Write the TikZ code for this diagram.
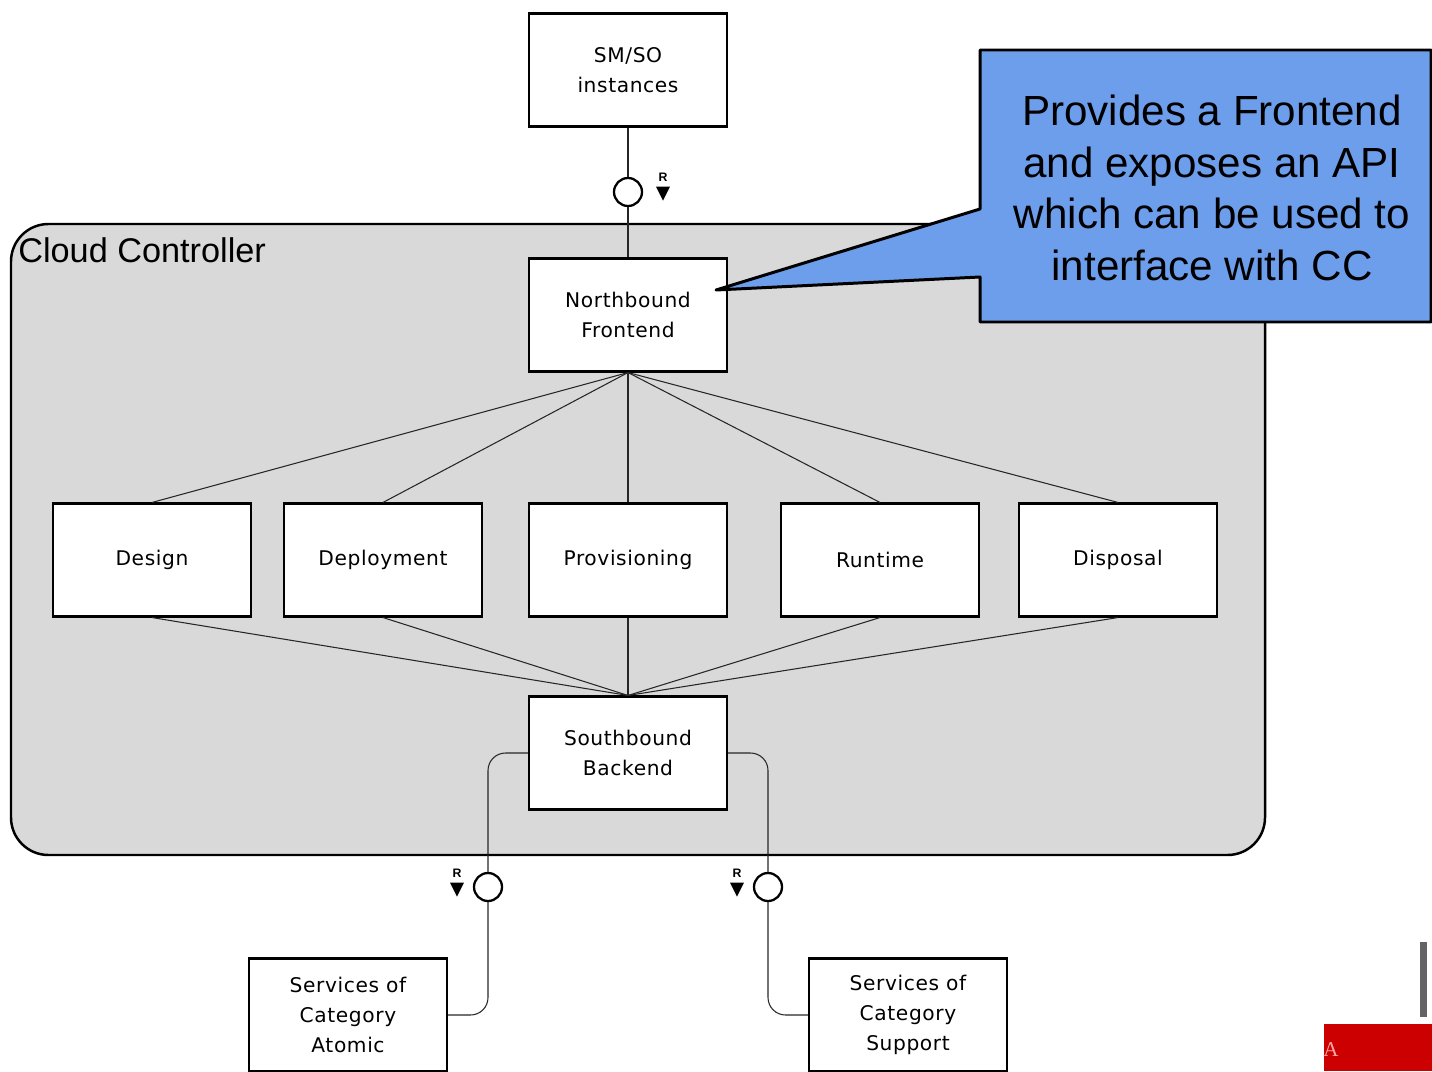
\documentclass[tikz,border=0pt]{standalone}
\usepackage{fontspec}
\setmainfont{Liberation Sans}
\newfontfamily\boxfont[LetterSpace=3]{DejaVu Sans}
\newfontfamily\serfont{Liberation Serif}
\definecolor{ccgray}{RGB}{217,217,217}
\definecolor{callblue}{RGB}{109,158,235}
\definecolor{barred}{RGB}{204,0,0}
\definecolor{bargray}{RGB}{100,100,100}
\begin{document}
\begin{tikzpicture}[x=0.02cm,y=-0.02cm,
  comp/.style={draw,line width=1.2pt,fill=white,minimum width=3.96cm,minimum height=2.26cm,
    align=center,font=\boxfont\fontsize{11.5}{17}\selectfont,inner sep=0pt},
  conn/.style={line width=0.6pt,draw=black!85},
  iface/.style={circle,draw,line width=1.3pt,fill=white,minimum size=0.56cm,inner sep=0pt},
  rlab/.style={font=\bfseries\fontsize{7}{7}\selectfont,inner sep=0pt}
]
\useasboundingbox (0,0) rectangle (1432,1071);
% Cloud controller container
\draw[line width=1.4pt,fill=ccgray,rounded corners=0.75cm] (11,224) rectangle (1265,855);
\node[anchor=west,font=\fontsize{19.5}{21}\selectfont,inner sep=0pt] (cclabel) at (18,250) {Cloud Controller};

% components
\node[comp] (smso) at (628,70) {SM/SO\\instances};
\node[comp] (nf) at (628,315) {Northbound\\Frontend};
\node[comp] (design) at (152,560) {Design};
\node[comp] (deploy) at (383,560) {Deployment};
\node[comp] (prov) at (628,560) {Provisioning};
\node[comp] (run) at (880,560) {Runtime};
\node[comp] (disp) at (1118,560) {Disposal};
\node[comp] (sb) at (628,753) {Southbound\\Backend};
\node[comp] (atomic) at (348,1015) {Services of\\Category\\Atomic};
\node[comp] (support) at (908,1015) {Services of\\Category\\Support};

% interfaces
\node[iface] (i0) at (628,192) {};
\node[iface] (i1) at (488,887) {};
\node[iface] (i2) at (768,887) {};
\draw[conn] (smso.south) -- (i0.north);
\draw[conn] (i0.south) -- (nf.north);

% R markers
\node[rlab] (r0) at (663,177) {R};
\node[rlab] (r1) at (457,873) {R};
\node[rlab] (r2) at (737,873) {R};
\foreach \r in {r0,r1,r2}{
  \fill ([xshift=-0.14cm,yshift=-0.1cm]\r.south) -- ([xshift=0.14cm,yshift=-0.1cm]\r.south) -- ([yshift=-0.38cm]\r.south) -- cycle;
}

% fan connectors
\foreach \b in {design,deploy,prov,run,disp}{
  \draw[conn] (nf.south) -- (\b.north);
  \draw[conn] (\b.south) -- (sb.north);
}

% southbound to services
\draw[conn,rounded corners=0.35cm] (sb.west) -| (i1.north);
\draw[conn,rounded corners=0.35cm] (i1.south) |- (atomic.east);
\draw[conn,rounded corners=0.35cm] (sb.east) -| (i2.north);
\draw[conn,rounded corners=0.35cm] (i2.south) |- (support.west);

% callout
\draw[line width=1.7pt,fill=callblue,line join=round]
  (980,50) -- (1431,50) -- (1431,322) -- (980,322) -- (980,277) -- (716,290) -- (980,209) -- cycle;
\node[align=center,font=\fontsize{24}{29.5}\selectfont,inner sep=0pt] (calltext) at (1212,188)
  {Provides a Frontend\\and exposes an API\\which can be used to\\interface with CC};

% corner decoration
\fill[bargray] (1420,942) rectangle (1427,1017);
\fill[barred] (1324,1024) rectangle (1432,1071);
\node[text=red!35,font=\serfont\fontsize{12}{12}\selectfont,inner sep=0pt] (alab) at (1331,1050) {A};
\end{tikzpicture}
\end{document}
